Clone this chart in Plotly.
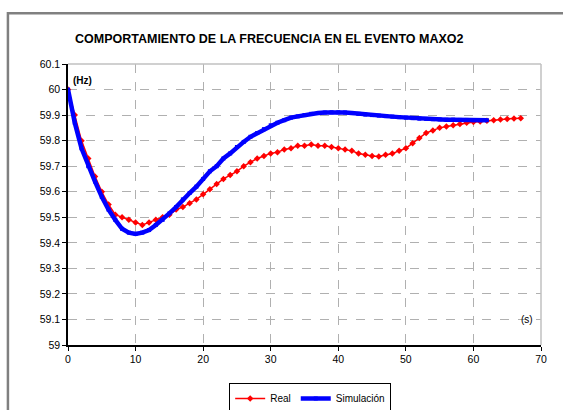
import plotly.graph_objects as go

real_t = list(range(0, 68))
real_f = [60.00, 59.90, 59.80, 59.73, 59.66, 59.60, 59.55, 59.51, 59.50, 59.49,
          59.48, 59.47, 59.48, 59.49, 59.50, 59.51, 59.53, 59.54, 59.555, 59.57,
          59.59, 59.61, 59.63, 59.65, 59.665, 59.68, 59.70, 59.715, 59.73, 59.74,
          59.75, 59.755, 59.765, 59.77, 59.78, 59.78, 59.785, 59.78, 59.78, 59.775,
          59.77, 59.765, 59.76, 59.75, 59.745, 59.74, 59.738, 59.745, 59.75, 59.76,
          59.77, 59.79, 59.81, 59.83, 59.84, 59.85, 59.855, 59.86, 59.865, 59.87,
          59.873, 59.875, 59.878, 59.88, 59.883, 59.885, 59.887, 59.888]

sim_t = list(range(0, 63))
sim_f = [60.00, 59.87, 59.77, 59.70, 59.64, 59.58, 59.53, 59.49, 59.455, 59.44,
         59.435, 59.44, 59.45, 59.47, 59.49, 59.515, 59.54, 59.57, 59.595, 59.62,
         59.65, 59.68, 59.70, 59.73, 59.75, 59.775, 59.795, 59.815, 59.83, 59.845,
         59.86, 59.87, 59.88, 59.89, 59.895, 59.90, 59.905, 59.908, 59.91, 59.911,
         59.911, 59.91, 59.908, 59.905, 59.902, 59.90, 59.898, 59.896, 59.894, 59.892,
         59.89, 59.888, 59.886, 59.885, 59.884, 59.883, 59.882, 59.882, 59.881, 59.881,
         59.88, 59.88, 59.88]

x_ticks = [0, 10, 20, 30, 40, 50, 60, 70]
y_ticks = [59.0, 59.1, 59.2, 59.3, 59.4, 59.5, 59.6, 59.7, 59.8, 59.9, 60.0, 60.1]
y_labels = ["59", "59.1", "59.2", "59.3", "59.4", "59.5", "59.6", "59.7", "59.8", "59.9", "60", "60.1"]

FONT = "Liberation Sans, Arial"

fig = go.Figure()
fig.add_trace(go.Scatter(x=real_t, y=real_f, name="Real", mode="lines+markers",
                         line=dict(color="#ff0000", width=1.5),
                         marker=dict(symbol="diamond", size=5, color="#ff0000")))
fig.add_trace(go.Scatter(x=sim_t, y=sim_f, name="Simulación", mode="lines+markers",
                         line=dict(color="#0000ff", width=4.5),
                         marker=dict(symbol="square", size=4, color="#0000ff")))

fig.update_layout(
    width=563, height=410,
    margin=dict(l=68, r=22, t=64, b=65, autoexpand=False),
    paper_bgcolor="white", plot_bgcolor="white",
    font=dict(family=FONT, size=10.5, color="black"),
    showlegend=True,
    legend=dict(orientation="h", x=0.512, xanchor="center",
                yref="container", y=0.066, yanchor="top",
                bordercolor="black", borderwidth=1, font=dict(size=10),
                itemwidth=30, tracegroupgap=0),
    xaxis=dict(range=[0, 70], tickvals=x_ticks, showgrid=True,
               gridcolor="#b0b0b0", griddash="dash", gridwidth=1,
               showline=True, linecolor="black", linewidth=1.5,
               ticks="outside", ticklen=4, tickcolor="black", zeroline=False,
               mirror=False),
    yaxis=dict(range=[59.0, 60.1], tickvals=y_ticks, ticktext=y_labels, showgrid=True,
               gridcolor="#b0b0b0", griddash="dash", gridwidth=1,
               showline=True, linecolor="black", linewidth=1.5,
               ticks="outside", ticklen=4, tickcolor="black", zeroline=False),
)

# plot area top/right border (light gray)
fig.add_shape(type="line", xref="paper", yref="paper", x0=0, x1=1, y0=1, y1=1,
              line=dict(color="#c0c0c0", width=1.5))
fig.add_shape(type="line", xref="paper", yref="paper", x0=1, x1=1, y0=0, y1=1,
              line=dict(color="#c0c0c0", width=1.5))
# outer chart frame
fig.add_shape(type="rect", xref="paper", yref="paper", x0=-0.127, x1=1.06, y0=-0.25, y1=1.181,
              line=dict(color="#808080", width=2.5), layer="below")

fig.add_annotation(text="<b>COMPORTAMIENTO DE LA FRECUENCIA EN EL EVENTO MAXO2</b>",
                   xref="paper", yref="paper", x=0.425, y=1.121, showarrow=False,
                   font=dict(family=FONT, size=12.5, color="black"))
fig.add_annotation(text="<b>(Hz)</b>", xref="paper", yref="paper", x=0.03, y=0.968,
                   showarrow=False, xanchor="center", font=dict(size=10))
fig.add_annotation(text="(s)", xref="paper", yref="paper", x=0.97, y=0.064,
                   showarrow=False, xanchor="center", font=dict(size=10))

fig.write_html("out.html")
